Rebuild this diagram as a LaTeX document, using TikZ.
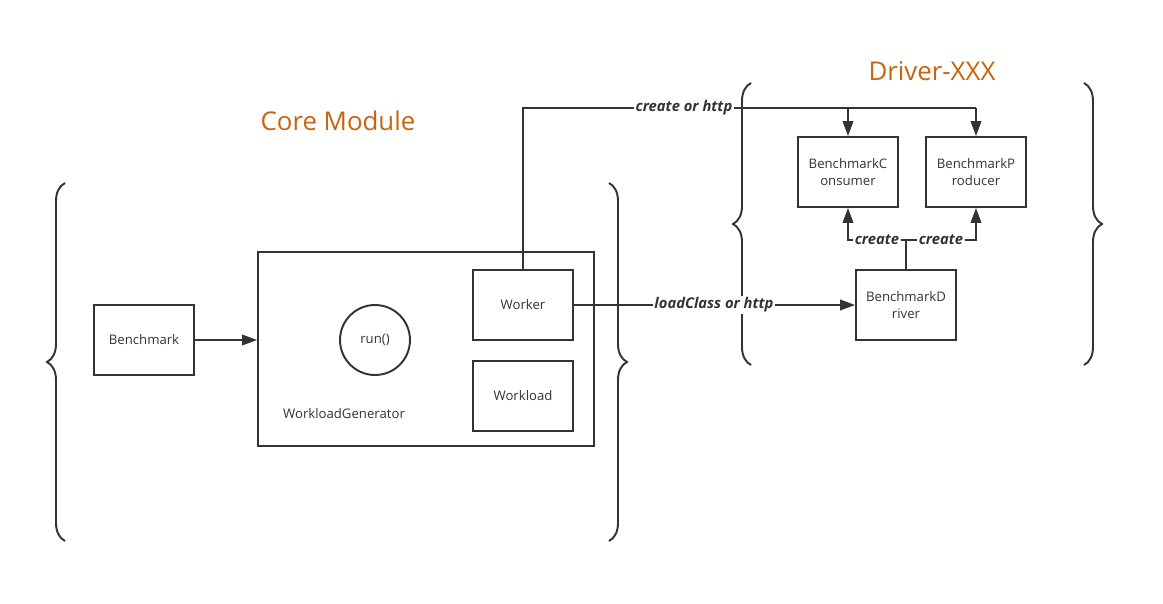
\documentclass[tikz,border=0pt]{standalone}
\usepackage{fontspec}
\setmainfont{Open Sans}
\usetikzlibrary{arrows.meta,decorations.pathreplacing}
\definecolor{inkgray}{RGB}{51,51,51}
\definecolor{titleorange}{RGB}{199,101,14}
\begin{document}
\begin{tikzpicture}[x = 0.02cm, y = -0.02cm,
                    line width = 1.1pt, draw = inkgray,
                    box/.style = {draw = inkgray, line width = 1.1pt, minimum width = 2cm,
                                  minimum height = 1.4cm, align = center, inner sep = 0pt,
                                  font = \fontsize{7.5}{10}\selectfont, text = inkgray},
                    lbl/.style = {fill = white, inner sep = 1pt, text = inkgray,
                                  font = \fontsize{8.4}{9}\selectfont\bfseries\itshape},
                    title/.style = {text = titleorange, font = \fontsize{14.7}{17}\selectfont},
                    arr/.style = {-{Triangle[length = 8.5pt, width = 6pt]}},
                    curly/.style = {decorate, decoration = {brace, amplitude = 0.36cm}}]
      \useasboundingbox (0, 0) rectangle (1163, 603);

      % titles
      \node [title] (coretitle) at (338, 121) {Core Module};
      \node [title] (drivertitle) at (932, 71) {Driver-XXX};

      % braces
      \draw [curly] (65, 541) -- (65, 183);
      \draw [curly] (609, 183) -- (609, 541);
      \draw [curly] (751, 365) -- (751, 83);
      \draw [curly] (1084, 83) -- (1084, 365);

      % core module
      \node [box] (bench) at (144, 340) {Benchmark};
      \node [box, minimum width = 6.72cm, minimum height = 3.88cm] (gen) at (426, 349) {};
      \node [draw = inkgray, circle, minimum size = 1.4cm, inner sep = 0pt, text = inkgray,
             font = \fontsize{7.5}{10}\selectfont] (run) at (375, 340) {run()};
      \node [text = inkgray, font = \fontsize{7.5}{10}\selectfont] (genlabel) at (344, 414)
            {WorkloadGenerator};
      \node [box] (worker) at (523, 305) {Worker};
      \node [box] (workload) at (523, 396) {Workload};

      % driver
      \node [box] (consumer) at (848, 172) {BenchmarkC\\onsumer};
      \node [box] (producer) at (976, 172) {BenchmarkP\\roducer};
      \node [box] (driver) at (906, 305) {BenchmarkD\\river};

      \coordinate (wtop) at (523, 108);
      \coordinate (ctop) at (848, 108);
      \coordinate (ptop) at (976, 108);
      \coordinate (dtop) at (906, 240);
      \coordinate (cbot) at (848, 240);
      \coordinate (pbot) at (976, 240);

      % connectors
      \draw [arr] (bench) -- (gen.west |- bench);
      \draw (worker.north) -- (wtop) -- (ptop);
      \draw [arr] (ptop) -- (producer.north);
      \draw [arr] (ctop) -- (consumer.north);
      \node [lbl] (httplabel) at (684, 108) {create or http};
      \draw [arr] (worker.east) -- (driver.west);
      \node [lbl] (loadlabel) at (714, 305) {loadClass or http};
      \draw (driver.north) -- (dtop);
      \draw [arr] (dtop) -- (cbot) -- (consumer.south);
      \draw [arr] (dtop) -- (pbot) -- (producer.south);
      \node [lbl] (createc) at (877, 240) {create};
      \node [lbl] (createp) at (941, 240) {create};
\end{tikzpicture}
\end{document}
